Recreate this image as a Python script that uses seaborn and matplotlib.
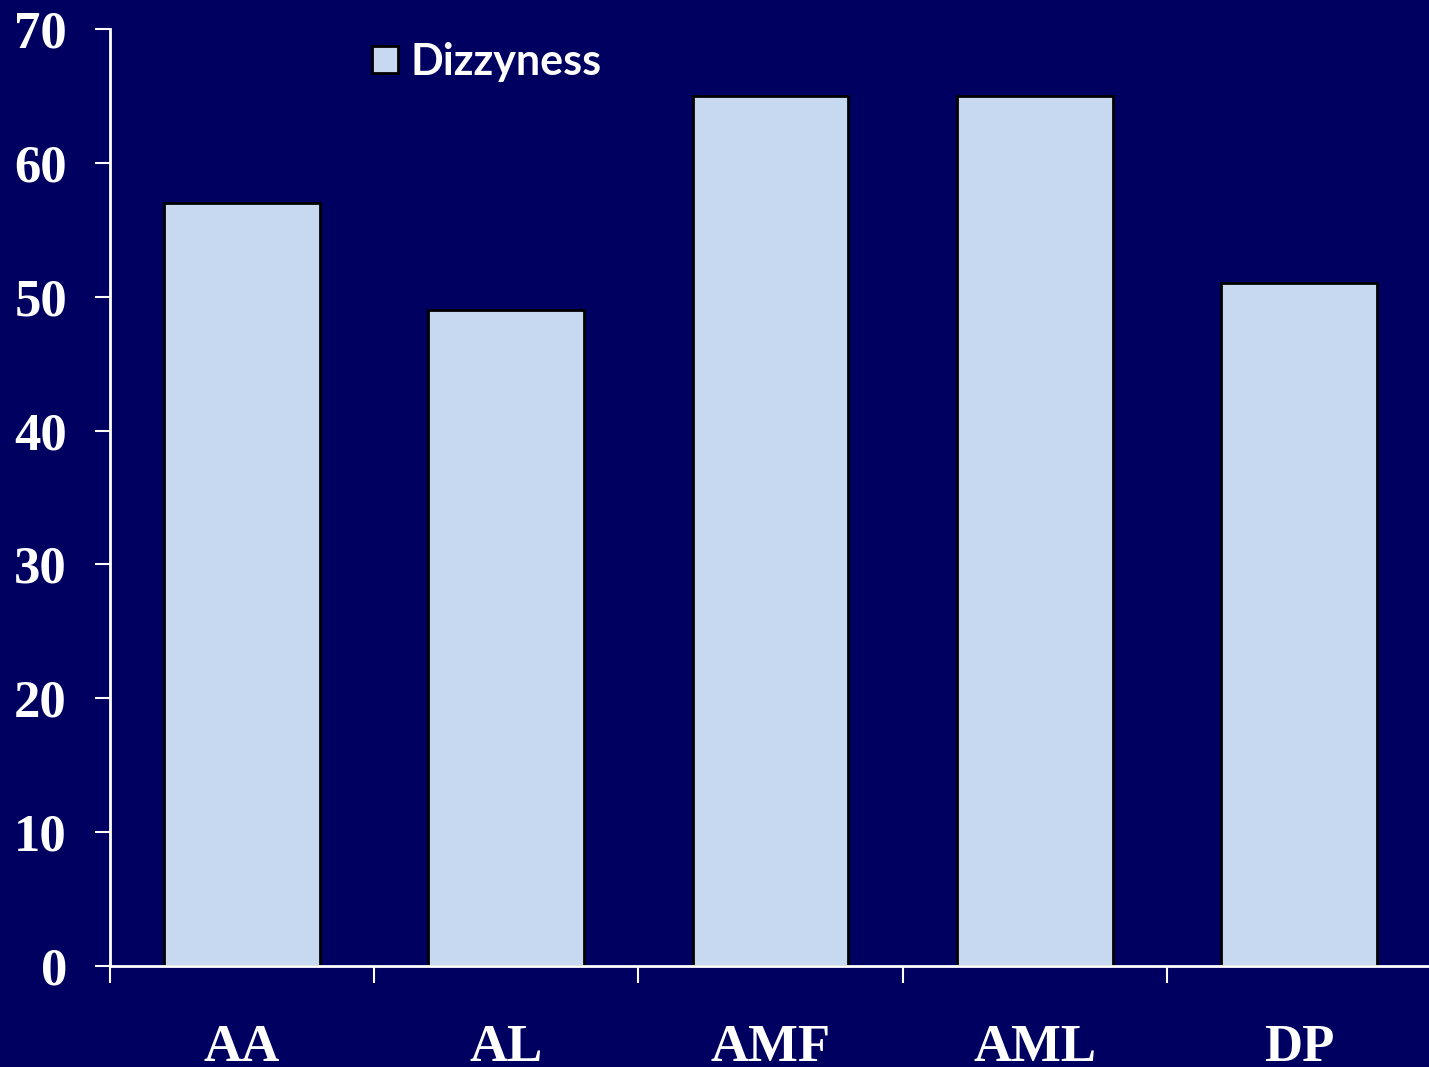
import matplotlib
matplotlib.use("Agg")
import matplotlib.pyplot as plt
import seaborn as sns
import pandas as pd
from matplotlib.ticker import FixedLocator, NullFormatter

categories = ["AA", "AL", "AMF", "AML", "DP"]
dizzyness = [57, 49, 65, 65, 51]
y_ticks = [0, 10, 20, 30, 40, 50, 60, 70]

bg = "#000060"
bar_color = "#C6D9F0"

sns.set_theme(style="white")
plt.rcParams["font.family"] = ["Liberation Serif", "DejaVu Serif"]

df = pd.DataFrame({"group": categories, "value": dizzyness})

fig = plt.figure(figsize=(14.29, 10.67), dpi=100)
fig.patch.set_facecolor(bg)
ax = fig.add_axes([110 / 1429, 1 - 966 / 1067, 1321 / 1429, (966 - 29) / 1067])
ax.set_facecolor(bg)

sns.barplot(data=df, x="group", y="value", color=bar_color, edgecolor="black",
            linewidth=2, width=0.59, saturation=1, label="Dizzyness", ax=ax)

ax.set_xlim(-0.5, 4.5)
ax.set_ylim(0, 70)
ax.set_xlabel("")
ax.set_ylabel("")

for side in ["top", "right"]:
    ax.spines[side].set_visible(False)
for side in ["left", "bottom"]:
    ax.spines[side].set_color("white")
    ax.spines[side].set_linewidth(2)

ax.set_yticks(y_ticks)
ax.set_yticklabels([str(t) for t in y_ticks])
ax.tick_params(axis="y", direction="out", length=11, width=1.5, color="white",
               labelcolor="white", labelsize=38, pad=20, left=True)
for lbl in ax.get_yticklabels():
    lbl.set_fontweight("bold")

# category boundaries carry the tick marks; labels sit at category centres
ax.xaxis.set_major_locator(FixedLocator([i - 0.5 for i in range(len(categories) + 1)]))
ax.xaxis.set_major_formatter(NullFormatter())
ax.xaxis.set_minor_locator(FixedLocator(list(range(len(categories)))))
ax.set_xticklabels(categories, minor=True)
ax.tick_params(axis="x", which="major", direction="out", length=12, width=1.5,
               color="white", bottom=True)
ax.tick_params(axis="x", which="minor", length=0, labelcolor="white",
               labelsize=38, pad=42, bottom=True)
for lbl in ax.get_xticklabels(minor=True):
    lbl.set_fontweight("bold")

leg = ax.legend(loc="center left", bbox_to_anchor=(0.182, 0.9648), frameon=False,
                borderpad=0, handlelength=0.6, handleheight=0.6, handletextpad=0.3,
                prop={"family": "Lato", "weight": "bold", "size": 31})
for t in leg.get_texts():
    t.set_color("white")

fig.savefig("out.png", dpi=100, facecolor=bg)
